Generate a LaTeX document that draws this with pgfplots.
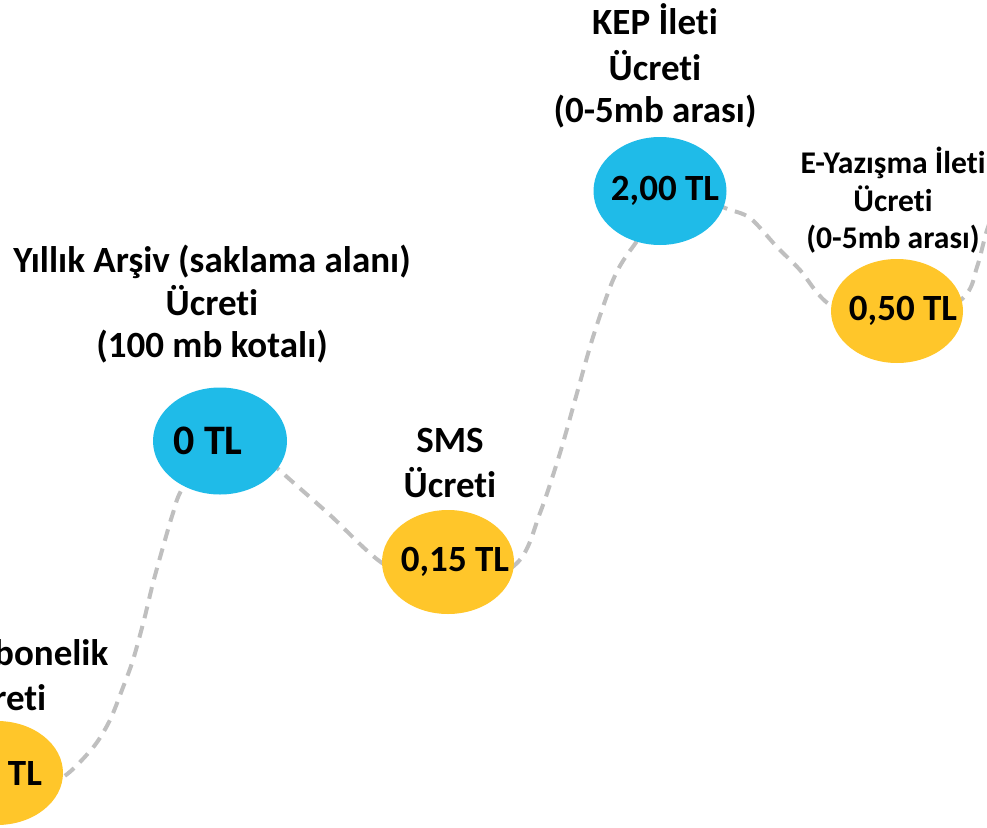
\documentclass[border=0pt]{standalone}
\usepackage{pgfplots}
\pgfplotsset{compat=1.18}
\usepackage{pgfplotstable}
\usepackage{fontspec}
\setmainfont{Carlito}[Ligatures=NoCommon]
\usetikzlibrary{shapes.geometric}
\definecolor{cblue}{HTML}{1FBBE8}
\definecolor{cyel}{HTML}{FFC62A}
\definecolor{cdash}{HTML}{BFBFBF}

\pgfplotstableread{
x y label
-3 773 {\hspace*{5bp}50 TL}
448 562 {\hspace*{7bp}0,15 TL}
897 311 {\hspace*{6bp}0,50 TL}
}\yellowtab
\pgfplotstableread{
x y label
660 191 {\hspace*{5bp}2,00 TL}
}\bluetab
\pgfplotstableread{
x y label
220 441 {0 TL\hspace*{12bp}}
}\bluebigtab
\pgfplotstableread{
x y
30 795
50 786
72 770
95 745
110 720
122 690
133 660
144 620
153 583
163 547
173 513
183 487
225 420
277 468
330 515
382 563
450 600
517 563
540 513
560 453
577 393
593 337
613 280
632 248
680 190
725 208
750 218
777 247
800 270
830 305
900 340
963 298
977 267
987 230
1000 195
}\pathtab

\newcommand{\lbl}{\bfseries\fontsize{18.5bp}{22bp}\selectfont}
\newcommand{\lbls}{\bfseries\fontsize{15.8bp}{19bp}\selectfont}

\begin{document}
\begin{tikzpicture}
\useasboundingbox (0,0) rectangle (493.5bp,414bp);
\clip (0,0) rectangle (493.5bp,414bp);
\begin{axis}[at={(0,0)}, anchor=south west, width=493.5bp, height=414bp,
  scale only axis, hide axis, xmin=0, xmax=987, ymin=0, ymax=828,
  y dir=reverse, clip=false]
\addplot[cdash, line width=2bp, dash pattern=on 6bp off 4bp, smooth, no marks] table {\pathtab};
\addplot[draw=none, mark=none, point meta=explicit symbolic, nodes near coords,
  every node near coord/.append style={ellipse, fill=cyel, minimum width=66bp,
  minimum height=52bp, inner xsep=-25bp, inner ysep=0pt, anchor=center, text=black,
  font=\bfseries\fontsize{18.5bp}{22bp}\selectfont}] table[meta=label] {\yellowtab};
\addplot[draw=none, mark=none, point meta=explicit symbolic, nodes near coords,
  every node near coord/.append style={ellipse, fill=cblue, minimum width=66.5bp,
  minimum height=54bp, inner xsep=-25bp, inner ysep=0pt, anchor=center, text=black,
  font=\bfseries\fontsize{18.5bp}{22bp}\selectfont}] table[meta=label] {\bluetab};
\addplot[draw=none, mark=none, point meta=explicit symbolic, nodes near coords,
  every node near coord/.append style={ellipse, fill=cblue, minimum width=67bp,
  minimum height=53.5bp, inner xsep=-25bp, inner ysep=0pt, anchor=center, text=black,
  font=\bfseries\fontsize{21bp}{25bp}\selectfont}] table[meta=label] {\bluebigtab};

\node[anchor=base, font=\lbl] at (axis cs:0,665) {Yıllık Abonelik};
\node[anchor=base, font=\lbl] at (axis cs:0,710) {Ücreti};
\node[anchor=base, font=\lbl] at (axis cs:212,272) {Yıllık Arşiv (saklama alanı)};
\node[anchor=base, font=\lbl] at (axis cs:212,315) {Ücreti};
\node[anchor=base, font=\lbl] at (axis cs:212,357) {(100 mb kotalı)};
\node[anchor=base, font=\lbl] at (axis cs:450,452) {SMS};
\node[anchor=base, font=\lbl] at (axis cs:450,497) {Ücreti};
\node[anchor=base, font=\lbl] at (axis cs:655,35) {KEP İleti};
\node[anchor=base, font=\lbl] at (axis cs:655,80) {Ücreti};
\node[anchor=base, font=\lbl] at (axis cs:655,122) {(0-5mb arası)};
\node[anchor=base, font=\lbls] at (axis cs:893,173) {E-Yazışma İleti};
\node[anchor=base, font=\lbls] at (axis cs:893,211) {Ücreti};
\node[anchor=base, font=\lbls] at (axis cs:893,248) {(0-5mb arası)};
\end{axis}
\end{tikzpicture}
\end{document}
